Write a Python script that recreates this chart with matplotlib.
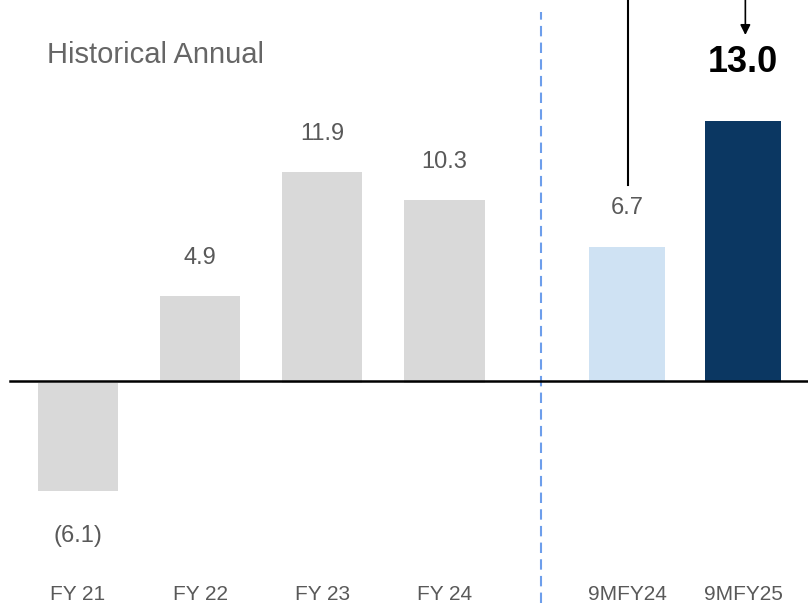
import matplotlib.pyplot as plt

plt.rcParams['font.family'] = ['Liberation Sans', 'DejaVu Sans']

# Historical annual values
hist_labels = ['FY 21', 'FY 22', 'FY 23', 'FY 24']
hist_values = [-6.1, 4.9, 11.9, 10.3]

# Nine-month comparison
nine_labels = ['9MFY24', '9MFY25']
nine_values = [6.7, 13.0]
nine_colors = ['#cfe2f3', '#0b3762']

LABEL_GREY = '#595959'


def fmt(v):
    # negatives shown in brackets, accounting style
    return f'({abs(v):.1f})' if v < 0 else f'{v:.1f}'


fig = plt.figure(figsize=(8.08, 6.03), dpi=100)

# left block: historical bars
ax1 = fig.add_axes([0, 0, 1, 1])
ax1.set_xlim(-0.639, 5.98)
ax1.set_ylim(-12.4, 21.6)
ax1.axis('off')
ax1.patch.set_alpha(0)

x1 = range(len(hist_values))
ax1.bar(x1, hist_values, width=0.66, color='#d9d9d9', zorder=2)
for i, v in zip(x1, hist_values):
    off = 2.15 if v >= 0 else -2.5
    ax1.text(i, v + off, fmt(v), ha='center', va='center', fontsize=17, color=LABEL_GREY)
    ax1.text(i, -11.9, hist_labels[i], ha='center', va='center', fontsize=15, color=LABEL_GREY)

ax1.text(-0.25, 18.5, 'Historical Annual', ha='left', va='center', fontsize=21, color='#666666')

# right block: nine-month bars, drawn on their own scale
ax2 = fig.add_axes([0, 0, 1, 1])
ax2.set_xlim(-5.405, 1.56)
ax2.set_ylim(-11.1, 19.05)
ax2.axis('off')
ax2.patch.set_alpha(0)

x2 = range(len(nine_values))
ax2.bar(x2, nine_values, width=0.655, color=nine_colors, zorder=2)
ax2.text(0, nine_values[0] + 1.95, fmt(nine_values[0]), ha='center', va='center',
         fontsize=17, color=LABEL_GREY)
ax2.text(1, nine_values[1] + 2.95, fmt(nine_values[1]), ha='center', va='center',
         fontsize=26, fontweight='bold', color='black')
for i, lab in zip(x2, nine_labels):
    ax2.text(i, -10.7, lab, ha='center', va='center', fontsize=15, color=LABEL_GREY)

# zero baseline across both blocks
fig.add_artist(plt.Line2D([10 / 808, 1], [222 / 603, 222 / 603], color='black', lw=1.8, zorder=3))

# divider between historical and nine-month
ax2.axvline(-0.742, ymin=0, ymax=0.98, color='#6d9eeb', lw=1.5, ls=(0, (5, 3)))

# bridge connector lines cut off at the top
ax2.plot([0.01, 0.01], [9.8, 19.05], color='black', lw=1.5)
ax2.annotate('', xy=(1.02, 17.3), xytext=(1.02, 19.2),
             arrowprops=dict(arrowstyle='-|>', color='black', lw=1.2,
                             mutation_scale=15, shrinkA=0, shrinkB=0))

fig.savefig('out.png', dpi=100)
